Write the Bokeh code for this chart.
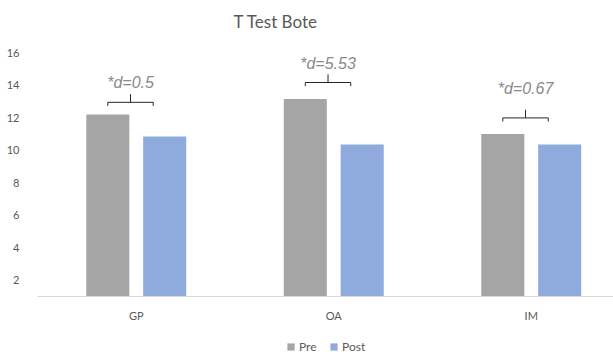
from bokeh.plotting import figure
from bokeh.layouts import column
from bokeh.models import Range1d, FixedTicker, Label, Legend, LegendItem, ColumnDataSource
from bokeh.embed import file_html
from bokeh.resources import INLINE

categories = ["GP", "OA", "IM"]
series = ["Pre", "Post"]
pre = [12.2, 13.15, 11.0]
post = [10.85, 10.35, 10.35]
effect_labels = ["*d=0.5", "*d=5.53", "*d=0.67"]
y_ticks = [2, 4, 6, 8, 10, 12, 14, 16]
title_text = "T Test Bote"

# annotation placement (data units)
bracket_y = [12.95, 14.17, 11.99]
label_y = [14.2, 15.34, 13.77]

FONT = "Lato"
TXT = "#595959"
PRE_C = "#A5A5A5"
POST_C = "#8FAADC"

p = figure(width=613, height=334, output_backend="svg", toolbar_location=None,
           x_range=Range1d(0, 2.9165), y_range=Range1d(1, 17),
           min_border_left=37, min_border_right=0, min_border_top=36, min_border_bottom=38)
p.outline_line_color = None
p.xgrid.grid_line_color = None
p.ygrid.grid_line_color = None

p.title.text = title_text
p.title.align = "left"
p.title.offset = 196
p.title.text_font = FONT
p.title.text_font_size = "17px"
p.title.text_font_style = "normal"
p.title.text_color = TXT
p.title.standoff = 10

centers = [i + 0.5 for i in range(len(categories))]
off = 0.144
bw = 0.218
src = ColumnDataSource(dict(xc=centers, pre=pre, post=post,
                            xpre=[c - off for c in centers], xpost=[c + off for c in centers]))
p.vbar(x="xpre", top="pre", bottom=1, width=bw, source=src, fill_color=PRE_C, line_color=None)
p.vbar(x="xpost", top="post", bottom=1, width=bw, source=src, fill_color=POST_C, line_color=None)

# axes
p.xaxis.ticker = FixedTicker(ticks=centers)
p.xaxis.major_label_overrides = {c: n for c, n in zip(centers, categories)}
p.xaxis.major_tick_line_color = None
p.xaxis.minor_tick_line_color = None
p.xaxis.axis_line_color = "#D9D9D9"
p.xaxis.axis_line_width = 1
p.xaxis.major_label_standoff = 6
p.xaxis.major_label_text_font = FONT
p.xaxis.major_label_text_font_size = "11px"
p.xaxis.major_label_text_color = TXT

p.yaxis.ticker = FixedTicker(ticks=y_ticks)
p.yaxis.axis_line_color = None
p.yaxis.major_tick_line_color = None
p.yaxis.minor_tick_line_color = None
p.yaxis.major_label_standoff = 12
p.yaxis.major_label_text_font = FONT
p.yaxis.major_label_text_font_size = "11px"
p.yaxis.major_label_text_color = TXT

# brackets
xs, ys = [], []
for c, L in zip(centers, bracket_y):
    x0 = c - off
    x1 = c + 0.086
    xm = (x0 + x1) / 2
    xs.append([x0, x0, x1, x1]); ys.append([L - 0.22, L, L, L - 0.22])
    xs.append([xm, xm]); ys.append([L, L + 0.5])
p.multi_line(xs, ys, line_color="#262626", line_width=1)

for c, t, ly in zip(centers, effect_labels, label_y):
    xm = (c - off + c + 0.086) / 2
    p.add_layout(Label(x=xm, y=ly, text=t, text_align="center", text_baseline="middle",
                       text_font="Liberation Sans", text_font_style="italic",
                       text_font_size="16px", text_color="#8a8a8a"))

# legend strip below the chart
lg = figure(width=613, height=20, output_backend="svg", toolbar_location=None,
            x_axis_type=None, y_axis_type=None,
            x_range=Range1d(0, 1), y_range=Range1d(0, 1),
            min_border_left=0, min_border_right=0, min_border_top=0, min_border_bottom=0)
lg.grid.visible = False
lg.outline_line_color = None
offscreen = ColumnDataSource(dict(x=[5], top=[5]))
r_pre = lg.vbar(x="x", top="top", width=0.1, source=offscreen, fill_color=PRE_C, line_color=None)
r_post = lg.vbar(x="x", top="top", width=0.1, source=offscreen, fill_color=POST_C, line_color=None)
legend = Legend(items=[LegendItem(label=series[0], renderers=[r_pre]),
                       LegendItem(label=series[1], renderers=[r_post])],
                orientation="horizontal", location=(249, 0),
                label_text_font=FONT, label_text_font_size="12px", label_text_color=TXT,
                glyph_width=9, glyph_height=9, label_standoff=4, spacing=10,
                padding=0, margin=0, border_line_color=None, background_fill_alpha=0)
lg.add_layout(legend)

layout = column(p, lg, spacing=0)
open("out.html", "w").write(file_html(layout, INLINE))
